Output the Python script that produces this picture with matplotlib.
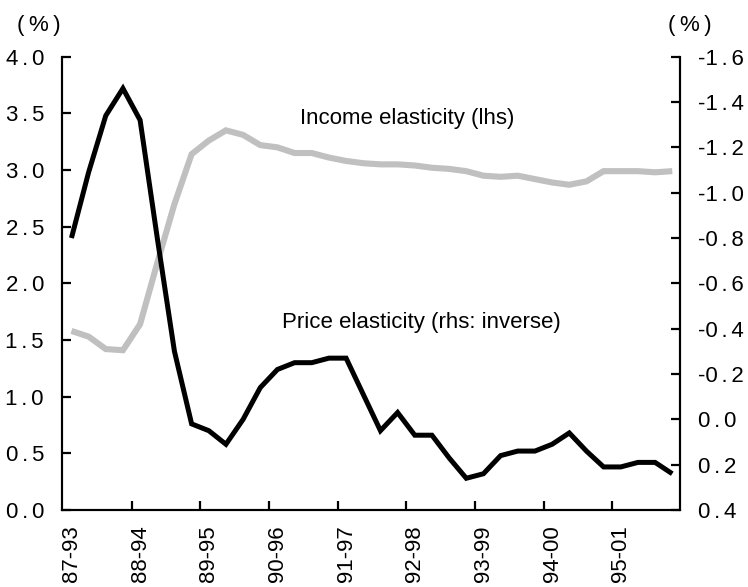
import numpy as np
import matplotlib
matplotlib.use('Agg')
import matplotlib.pyplot as plt

plt.rcParams['font.family'] = ['Liberation Sans', 'DejaVu Sans']

# quarterly rolling windows, one label every four quarters
periods = ['87-93', '88-94', '89-95', '90-96', '91-97', '92-98', '93-99', '94-00', '95-01']

income = [1.58, 1.53, 1.42, 1.41, 1.64, 2.18, 2.70, 3.14, 3.26, 3.35,
          3.31, 3.22, 3.20, 3.15, 3.15, 3.11, 3.08, 3.06, 3.05, 3.05,
          3.04, 3.02, 3.01, 2.99, 2.95, 2.94, 2.95, 2.92, 2.89, 2.87,
          2.90, 2.99, 2.99, 2.99, 2.98, 2.99]

price = [-0.80, -1.09, -1.34, -1.46, -1.32, -0.80, -0.30, 0.02, 0.05, 0.11,
         0.00, -0.14, -0.22, -0.25, -0.25, -0.27, -0.27, -0.11, 0.05, -0.03,
         0.07, 0.07, 0.17, 0.26, 0.24, 0.16, 0.14, 0.14, 0.11, 0.06,
         0.14, 0.21, 0.21, 0.19, 0.19, 0.24]

left_ticks = np.arange(0, 4.01, 0.5)
right_ticks = np.round(np.arange(-1.6, 0.41, 0.2), 1)

SP = '\u2006'   # narrow gap around the decimal point


def spaced(v):
    s = f'{v:.1f}'
    if s == '-0.0':
        s = '0.0'
    return s.replace('.', SP + '.' + SP)


fig = plt.figure(figsize=(7.48, 5.87), dpi=100)
ax = fig.add_axes([62 / 748, 1 - 510 / 587, 618 / 748, (510 - 56.7) / 587])
ax2 = ax.twinx()

x = np.arange(len(income))
ax.plot(x, income, color='#c0c0c0', lw=4.4, solid_joinstyle='miter', solid_capstyle='butt')
ax2.plot(x, price, color='black', lw=3.6, solid_joinstyle='miter', solid_capstyle='butt')

ax.set_xlim(-0.55, 35.45)
ax.set_ylim(0, 4.0)
ax2.set_ylim(0.4, -1.6)

ax.set_yticks(left_ticks)
ax.set_yticklabels([spaced(v) for v in left_ticks])
ax2.set_yticks(right_ticks)
ax2.set_yticklabels([spaced(v) for v in right_ticks])

ax.set_xticks(np.arange(0, len(income), 4))
ax.set_xticklabels(periods, rotation=90)
ax.set_xticks(np.arange(3.5, 32, 4), minor=True)

ax.tick_params(axis='x', which='major', length=0, pad=11, labelsize=16)
ax.tick_params(axis='x', which='minor', direction='in', length=6.5, width=1.6)
ax.tick_params(axis='y', direction='in', length=6.5, width=1.6, pad=13, labelsize=16)
ax2.tick_params(axis='y', direction='in', length=6.5, width=1.6, pad=13, labelsize=16)

for a in (ax, ax2):
    a.spines['top'].set_visible(False)
    for s in ('left', 'right', 'bottom'):
        a.spines[s].set_linewidth(1.5)

unit = '(\u2009%\u2009)'
fig.text(39 / 748, 1 - 25 / 587, unit, fontsize=16, ha='center', va='center')
fig.text(690 / 748, 1 - 25 / 587, unit, fontsize=16, ha='center', va='center')

fig.text(300 / 748, 1 - 124 / 587, 'Income elasticity (lhs)', fontsize=16,
         ha='left', va='baseline')
fig.text(282 / 748, 1 - 328 / 587, 'Price elasticity (rhs: inverse)', fontsize=16,
         ha='left', va='baseline')

fig.savefig('out.png', dpi=100)
